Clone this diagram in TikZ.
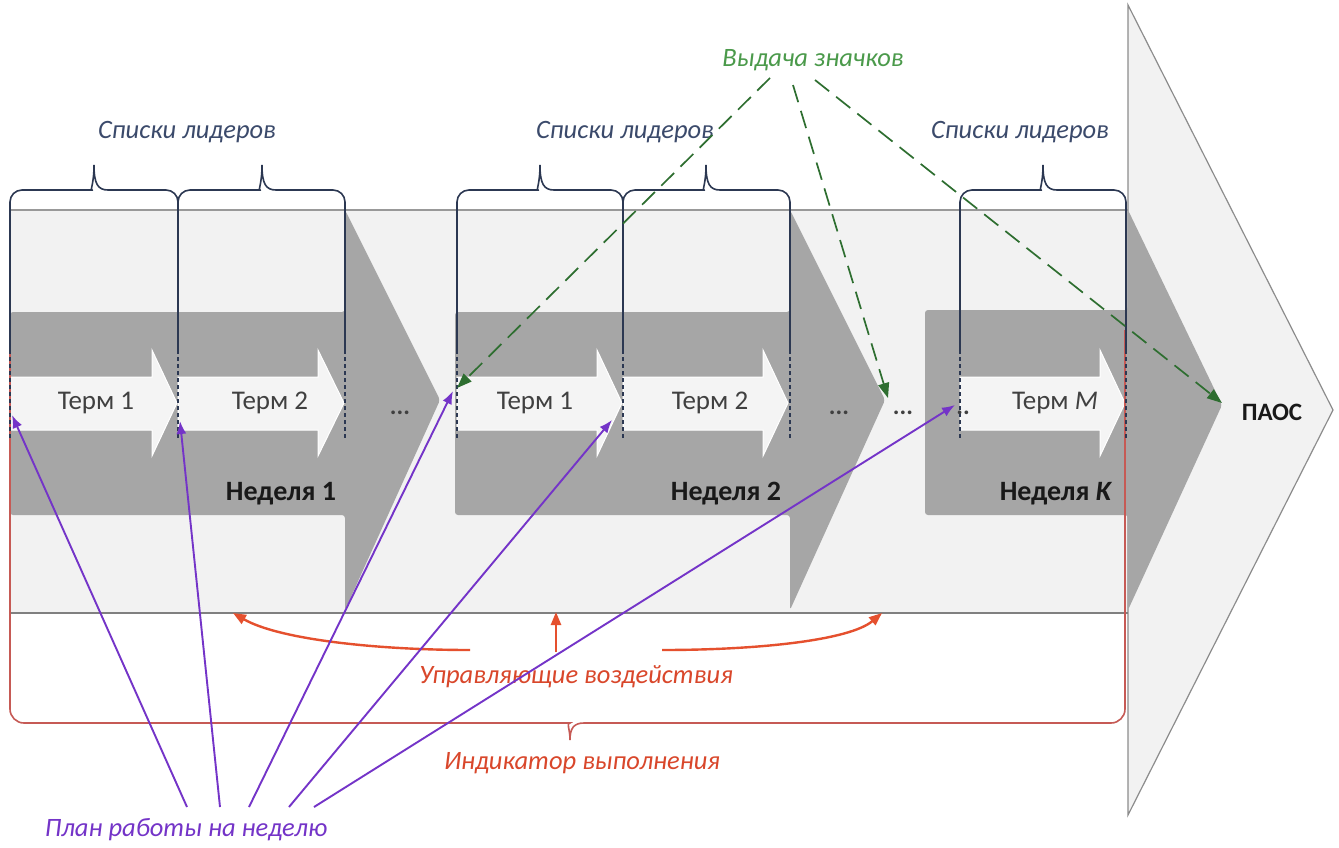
\documentclass[tikz,border=0pt]{standalone}
\usepackage{fontspec}
\setmainfont{Carlito}
\usetikzlibrary{arrows.meta,calc}
\definecolor{lightfill}{HTML}{F2F2F2}
\definecolor{termfill}{HTML}{F4F4F4}
\definecolor{weekfill}{HTML}{A6A6A6}
\definecolor{navy}{HTML}{2C3852}
\definecolor{navytext}{HTML}{3B4A6B}
\definecolor{grn}{HTML}{2E6E30}
\definecolor{grntext}{HTML}{4B9A4B}
\definecolor{purp}{HTML}{7434C8}
\definecolor{redarr}{HTML}{E5502E}
\definecolor{redtxt}{HTML}{D9472B}
\definecolor{redbrace}{HTML}{C65A55}
\tikzset{
  lbl/.style={font=\fontsize{26.5}{31}\selectfont\itshape, inner sep=0pt},
  termtxt/.style={font=\fontsize{27}{32}\selectfont, text=black!75, inner sep=0pt},
  weektxt/.style={font=\fontsize{28}{33}\selectfont\bfseries, text=black!90, inner sep=0pt},
  paoctxt/.style={font=\fontsize{25}{30}\selectfont\bfseries, text=black!90, inner sep=0pt},
  dotstxt/.style={font=\fontsize{25}{30}\selectfont\bfseries, text=black!75, inner sep=0pt},
  weekbox/.style={fill=weekfill, rounded corners=3pt},
  termarrow/.style={fill=termfill, draw=white, line width=1pt},
  ldrline/.style={draw=navy, line width=1.6pt},
  ldrdash/.style={draw=navy, line width=1.6pt, dash pattern=on 4pt off 3pt},
  purparrow/.style={draw=purp, line width=1.9pt, -{Latex[length=13pt,width=10pt]}},
  grnarrow/.style={draw=grn, line width=1.7pt, dash pattern=on 18pt off 9pt, -{Triangle[length=15pt,width=11pt]}},
  redarrow/.style={draw=redarr, line width=2.4pt, -{Triangle[length=13pt,width=10pt]}},
}
\newcommand\ldrbrace[3]{%
  \draw[ldrline] (#1,350) [rounded corners=12pt] -- (#1,190) -- ({#3-14},190) [sharp corners]
    .. controls ({#3-4},190) and (#3,184) .. (#3,165)
    .. controls (#3,184) and ({#3+4},190) .. ({#3+14},190) [rounded corners=12pt]
    -- (#2,190) -- (#2,350);
  \draw[ldrdash] (#1,350) -- (#1,440);
  \draw[ldrdash] (#2,350) -- (#2,440);
}
\newcommand\termshape[3]{%
  \draw[termarrow] (#1,377) -- (#2,377) -- (#2,350) -- (#3,403) -- (#2,456) -- (#2,430) -- (#1,430) -- cycle;
}
\begin{document}
\begin{tikzpicture}[x=1pt,y=-1pt]
\useasboundingbox (0,0) rectangle (1339,847);
\fill[white] (0,0) rectangle (1339,847);

% big PAOC arrow
\fill[lightfill] (10,210) -- (1128,210) -- (1128,5) -- (1333,410) -- (1128,815) -- (1128,613) -- (10,613) -- cycle;
\draw[black!45, line width=1.2pt] (1128,5) -- (1333,410) -- (1128,815) -- cycle;
\draw[black!40, line width=1.5pt] (10,210) -- (1128,210);

% weeks
\path[weekbox] (10,312) -- (345,312) -- (345,210) -- (440,400) -- (345,610) -- (345,515) -- (10,515) -- cycle;
\path[weekbox] (455,312) -- (790,312) -- (790,210) -- (885,400) -- (790,610) -- (790,515) -- (455,515) -- cycle;
\path[weekbox] (925,310) -- (1128,310) -- (1128,210) -- (1222,405) -- (1128,610) -- (1128,515) -- (925,515) -- cycle;
\draw[black!50, line width=2.5pt] (10,613) -- (1128,613);

% terms
\termshape{10}{152}{177}
\termshape{178}{318}{344}
\termshape{457}{597}{622}
\termshape{623}{763}{788}
\termshape{960}{1100}{1125}

% red indicator brace
\draw[redbrace, line width=1.6pt] (10,262) [rounded corners=14pt] -- (10,723) -- (556,723) [sharp corners]
  .. controls (566,723) and (570,728) .. (570,740)
  .. controls (570,728) and (574,723) .. (584,723) [rounded corners=14pt]
  -- (1125,723) -- (1125,330);

% leader braces
\ldrbrace{10}{178}{94}
\ldrbrace{178}{345}{262}
\ldrbrace{457}{623}{540}
\ldrbrace{623}{790}{706}
\ldrbrace{960}{1126}{1043}

% texts
\node[lbl, text=navytext] (ldr1) at (187,132) {Списки лидеров};
\node[lbl, text=navytext] (ldr2) at (625,132) {Списки лидеров};
\node[lbl, text=navytext] (ldr3) at (1020,132) {Списки лидеров};
\node[lbl, text=grntext] (badge) at (813,60) {Выдача значков};
\node[termtxt] (t11) at (96,403) {Терм 1};
\node[termtxt] (t12) at (270,403) {Терм 2};
\node[termtxt] (t21) at (535,403) {Терм 1};
\node[termtxt] (t22) at (710,403) {Терм 2};
\node[termtxt] (tkm) at (1055,403) {Терм \textit{M}};
\node[dotstxt] (d1) at (400,413) {...};
\node[dotstxt] (d2) at (839,413) {...};
\node[dotstxt] (d3) at (903,413) {...};
\node[dotstxt] (d4) at (963,413) {..};
\node[weektxt] (w1) at (281,494) {Неделя 1};
\node[weektxt] (w2) at (726,494) {Неделя 2};
\node[weektxt] (wk) at (1056,494) {Неделя \textit{K}};
\node[paoctxt] (paoc) at (1272,412) {ПАОС};
\node[lbl, text=redtxt] (ctrl) at (576,677) {Управляющие воздействия};
\node[lbl, text=redtxt] (ind) at (582,763) {Индикатор выполнения};
\node[lbl, text=purp] (plan) at (186,830) {План работы на неделю};

% coordinates for connectors
\coordinate (p1s) at (187,807); \coordinate (p1e) at (12,415);
\coordinate (p2s) at (220,807); \coordinate (p2e) at (180,421);
\coordinate (p3s) at (249,807); \coordinate (p3e) at (453,391);
\coordinate (p4s) at (289,807); \coordinate (p4e) at (612,420);
\coordinate (p5s) at (314,807); \coordinate (p5e) at (955,405);
\coordinate (g1s) at (770,78); \coordinate (g1e) at (457,388);
\coordinate (g2s) at (793,85); \coordinate (g2e) at (888,398);
\coordinate (g3s) at (815,80); \coordinate (g3e) at (1222,403);
\coordinate (r1s) at (470,650); \coordinate (r1e) at (233,613);
\coordinate (r2s) at (556,652); \coordinate (r2e) at (556,612);
\coordinate (r3s) at (662,650); \coordinate (r3e) at (882,613);

% red control arrows
\draw[redarrow] (r1s) .. controls (380,650) and (280,640) .. (r1e);
\draw[redarrow] (r2s) -- (r2e);
\draw[redarrow] (r3s) .. controls (760,650) and (850,640) .. (r3e);

% green badge arrows
\draw[grnarrow] (g1s) -- (g1e);
\draw[grnarrow] (g2s) -- (g2e);
\draw[grnarrow] (g3s) -- (g3e);

% purple plan arrows
\draw[purparrow] (p1s) -- (p1e);
\draw[purparrow] (p2s) -- (p2e);
\draw[purparrow] (p3s) -- (p3e);
\draw[purparrow] (p4s) -- (p4e);
\draw[purparrow] (p5s) -- (p5e);
\end{tikzpicture}
\end{document}
